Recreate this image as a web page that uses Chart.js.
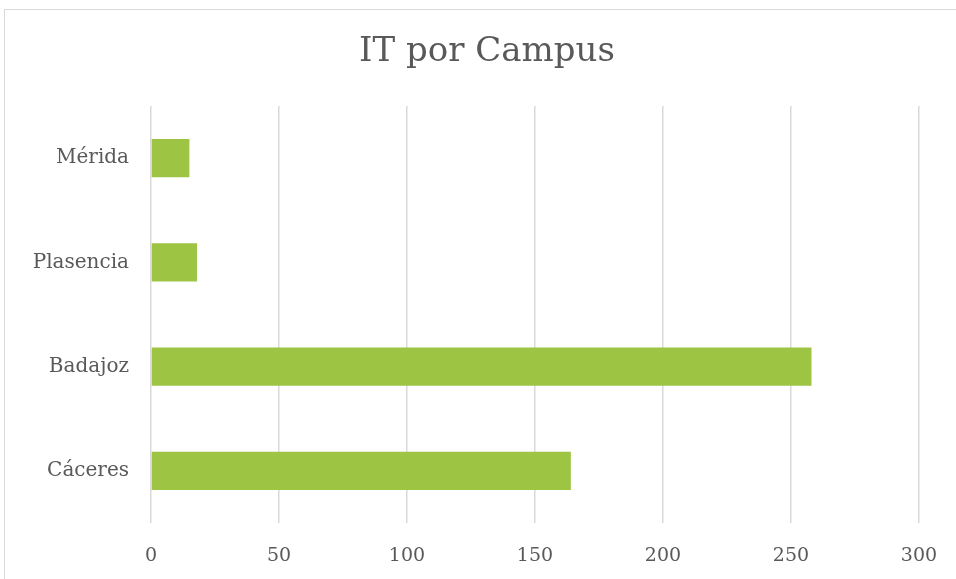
<!DOCTYPE html>
<html>
<head>
<meta charset="utf-8">
<script src="https://cdn.jsdelivr.net/npm/chart.js@4/dist/chart.umd.min.js"></script>
<style>
  html, body { margin: 0; padding: 0; background: #fff; }
  #wrap { position: relative; width: 956px; height: 579px; overflow: hidden; }
  #frame { position: absolute; left: 4px; top: 9px; width: 970px; height: 590px; border: 1px solid #d9d9d9; }
  #chart { position: absolute; left: 0; top: 0; }
</style>
</head>
<body>
<div id="wrap">
  <div id="frame"></div>
  <canvas id="chart" width="956" height="579"></canvas>
</div>
<script>
const campuses = ['Mérida', 'Plasencia', 'Badajoz', 'Cáceres'];
const itCounts = [15, 18, 258, 164];
const xTicks = [0, 50, 100, 150, 200, 250, 300];
const chartTitle = 'IT por Campus';

const textColor = '#595959';
const fontFamily = 'Rockwell, "DejaVu Serif", serif';

// title sits centred on the frame, not on the plot, so draw it by hand
const titlePlugin = {
    id: 'frameTitle',
    afterDraw(chart) {
        const ctx = chart.ctx;
        ctx.save();
        ctx.fillStyle = textColor;
        ctx.font = '34px ' + fontFamily;
        ctx.textAlign = 'center';
        ctx.textBaseline = 'middle';
        ctx.fillText(chartTitle, 487, 52);
        ctx.restore();
    }
};

new Chart(document.getElementById('chart'), {
    type: 'bar',
    data: {
        labels: campuses,
        datasets: [{
            label: 'IT',
            data: itCounts,
            backgroundColor: '#9dc443',
            borderWidth: 0,
            barPercentage: 0.73,
            categoryPercentage: 0.5
        }]
    },
    options: {
        indexAxis: 'y',
        responsive: false,
        animation: false,
        layout: { padding: { left: 0, right: 37, top: 106, bottom: 0 } },
        plugins: {
            legend: { display: false },
            tooltip: { enabled: false },
            title: { display: false }
        },
        scales: {
            x: {
                min: xTicks[0],
                max: xTicks[xTicks.length - 1],
                afterBuildTicks: s => { s.ticks = xTicks.map(v => ({ value: v })); },
                afterFit: s => {
                    s.height = 56;
                    s.paddingLeft = 0;
                    s.paddingRight = 0;
                },
                grid: { color: '#d9d9d9', lineWidth: 1.5, drawTicks: false },
                border: { display: false },
                ticks: {
                    color: textColor,
                    padding: 22,
                    font: { family: fontFamily, size: 19 }
                }
            },
            y: {
                afterFit: s => { s.width = 151; },
                grid: { display: false, drawTicks: false },
                border: { display: false },
                ticks: {
                    color: textColor,
                    padding: 22,
                    font: { family: fontFamily, size: 20 }
                }
            }
        }
    },
    plugins: [titlePlugin]
});
</script>
</body>
</html>
